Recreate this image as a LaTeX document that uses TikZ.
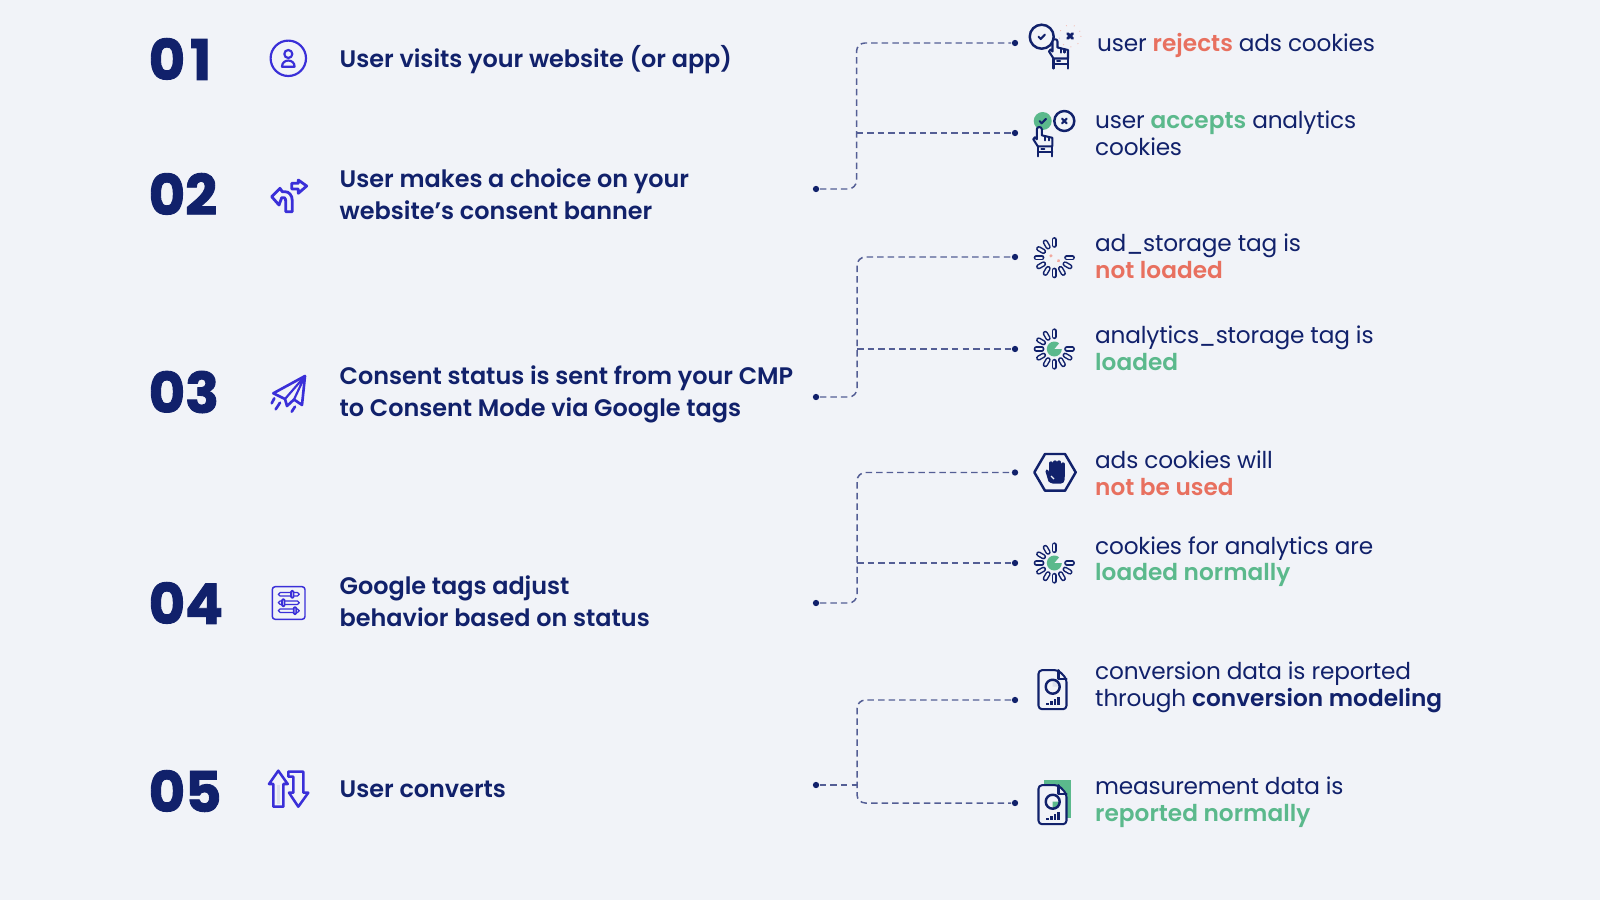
\documentclass[tikz,border=0pt]{standalone}
\usepackage{fontspec}
\setmainfont[BoldFont={Poppins SemiBold}]{Poppins}
\newfontfamily\numfont[BoldFeatures={FakeBold=1.6}]{Poppins}
\newfontfamily\outfont[LetterSpace=-.8,BoldFont={Poppins SemiBold},BoldFeatures={LetterSpace=.1}]{Poppins}
\usepackage{tikz}
\definecolor{pagebg}{HTML}{F1F3F8}
\definecolor{navy}{HTML}{11216B}
\definecolor{indigo}{HTML}{3A2FD8}
\definecolor{linkblue}{HTML}{545E95}
\definecolor{nored}{HTML}{E8705F}
\definecolor{okgreen}{HTML}{5BB98C}
\definecolor{softgrey}{HTML}{DDE1EC}
\newcommand{\rej}[1]{\textcolor{nored}{\textbf{#1}}}
\newcommand{\acc}[1]{\textcolor{okgreen}{\textbf{#1}}}
\newcommand{\solid}[1]{\textbf{#1}}
\tikzset{
  num/.style = {anchor=west, inner sep=0pt, text=navy, font=\numfont\bfseries\fontsize{15.9}{18}\selectfont},
  lefttext/.style = {anchor=west, inner sep=0pt, align=left, text=navy, font=\bfseries\fontsize{6.8}{8.96}\selectfont},
  righttext/.style = {anchor=west, inner sep=0pt, align=left, text=navy, font=\outfont\fontsize{6.6}{7.58}\selectfont},
  dotn/.style = {circle, fill=navy, inner sep=0pt, minimum size=1.8pt},
  link/.style = {draw=linkblue, line width=.42pt, dash pattern=on 1.85pt off 1.15pt, rounded corners=2.4pt},
  ico/.style = {draw=indigo, line width=.62pt, line join=round, line cap=round},
  nic/.style = {draw=navy, line width=.58pt, line join=round, line cap=round},
  spinner/.pic = {
    \foreach \a in {0,90,120,150,180,210,240,270,300,330} {
      \draw[navy, line width=1.5pt, line cap=round] ({12.5*cos(\a)},{-12.5*sin(\a)}) -- ({18*cos(\a)},{-18*sin(\a)});
      \draw[pagebg, line width=.65pt, line cap=round] ({12.5*cos(\a)},{-12.5*sin(\a)}) -- ({18*cos(\a)},{-18*sin(\a)});
    }
  },
  pie/.pic = {
    \fill[okgreen] (0,0) -- (7.5,0) arc[start angle=0, end angle=310, radius=7.5] -- cycle;
  },
  handicon/.pic = {
    \draw[nic, fill=pagebg] (-2.5,2) .. controls (-2.5,-1) and (2.5,-1) .. (2.5,2) -- (2.5,8) -- (13,10.5) -- (13,19) -- (-1.5,19) -- (-6,12) -- (-4.5,10) -- (-2.5,12) -- cycle;
    \draw[nic] (6,9) -- (6,13) (9.5,10) -- (9.5,13);
    \draw[nic] (-1.5,19) -- (-1.5,29) (13,19) -- (13,29) (-1.5,24.5) -- (13,24.5);
    \draw[nic] (2,21.7) -- (5,21.7);
  },
  docicon/.pic = {
    \draw[nic, fill=pagebg, rounded corners=1pt] (-14,-19.5) -- (6,-19.5) -- (14,-11) -- (14,19.5) -- (-14,19.5) -- cycle;
    \draw[nic] (6,-19.5) -- (6,-11) -- (14,-11);
    \foreach \bx/\by in {-5/2,-1/4,2.5/6,6/8}
      \draw[navy, line width=.65pt] (\bx,15) -- (\bx,15-\by);
  }
}
\begin{document}
\begin{tikzpicture}[x=.01cm, y=-.01cm]
\fill[pagebg] (0,0) rectangle (1600,900);
\useasboundingbox (0,0) rectangle (1600,900);
% step numbers
\node[num] (n1) at (148,59) {0\kern1.4pt 1};
\node[num] (n2) at (148,194) {02};
\node[num] (n3) at (148,392) {03};
\node[num] (n4) at (148,603) {04};
\node[num] (n5) at (148,791) {05};
% step texts
\node[lefttext] (t1) at (339,60) {User visits your website (or app)};
\node[lefttext] (t2) at (339,194) {User makes a choice on your\\website’s consent banner};
\node[lefttext] (t3) at (339,394.5) {Consent status is sent from your CMP\\to Consent Mode via Google tags};
\node[lefttext] (t4) at (339,601) {Google tags adjust\\behavior based on status};
\node[lefttext] (t5) at (339,789.5) {User converts};
% outcome texts
\node[righttext] (r1) at (1096.5,45) {user \rej{rejects} ads cookies};
\node[righttext] (r2) at (1094.5,133) {user \acc{accepts} analytics\\cookies};
\node[righttext] (r3) at (1094.5,256) {ad\_storage tag is\\\rej{not loaded}};
\node[righttext] (r4) at (1094.5,348) {analytics\_storage tag is\\\acc{loaded}};
\node[righttext] (r5) at (1094.5,473) {ads cookies will\\\rej{not be used}};
\node[righttext] (r6) at (1094.5,561.5) {cookies for analytics are\\\acc{loaded normally}};
\node[righttext] (r7) at (1094.5,687.5) {conversion data is reported\\through \solid{conversion modeling}};
\node[righttext] (r8) at (1094.5,802.5) {measurement data is\\\acc{reported normally}};
% connectors
\node[dotn] (s1) at (816,189) {};
\node[dotn] (s2) at (816,397) {};
\node[dotn] (s3) at (816,603) {};
\node[dotn] (s4) at (816,785) {};
\node[dotn] (e1) at (1015,43) {};
\node[dotn] (e2) at (1015,133) {};
\node[dotn] (e3) at (1015,257) {};
\node[dotn] (e4) at (1015,349) {};
\node[dotn] (e5) at (1015,472.5) {};
\node[dotn] (e6) at (1015,563) {};
\node[dotn] (e7) at (1015,700) {};
\node[dotn] (e8) at (1015,803) {};
\coordinate (j1) at (856.5,133);
\coordinate (j2) at (857,349);
\coordinate (j3) at (857,563);
\coordinate (j4) at (857,785);
\draw[link] (s1) -| (j1) |- (e1);
\draw[link] (j1) -- (e2);
\draw[link] (s2) -| (j2) |- (e3);
\draw[link] (j2) -- (e4);
\draw[link] (s3) -| (j3) |- (e5);
\draw[link] (j3) -- (e6);
\draw[link] (s4) -- (j4);
\draw[link] (e7) -| (j4) |- (e8);
% left icons
\draw[ico] (288.3,58.3) circle[radius=17.7];
\draw[ico] (288.3,54) circle[radius=4];
\draw[ico] (282,66.7) .. controls (282,58.5) and (294.6,58.5) .. (294.6,66.7) -- cycle;
\draw[ico, line width=.8pt, fill=pagebg] (285.7,211.7) -- (292.3,211.7) -- (292.3,201) .. controls (292.3,195) and (289,191.7) .. (285,191.7) -- (282.3,191.7) -- (280,188.3) -- (271.7,196.7) -- (279,205) -- (281.7,197.7) -- (284.3,197.7) .. controls (285.2,198) and (285.7,199.5) .. (285.7,201) -- cycle;
\draw[ico, line width=.8pt] (291.7,183.3) -- (298.3,183.3) -- (298.3,180) -- (306.7,186) -- (298.3,193.3) -- (298.3,189) -- (291.7,189) -- cycle;
\draw[ico, line width=.75pt] (305,376) -- (273.3,393.3) -- (285,399) -- (287,406) -- (294,399.5) -- (302,405) -- cycle;
\draw[ico] (305,376) -- (285,399) (305,376) -- (294,399.5);
\draw[ico, line width=.75pt] (271.7,403.3) -- (274.3,398.3) (275.7,409.3) -- (280,402.7) (291.7,411.7) -- (295,406.7);
\draw[ico, line width=.42pt, rounded corners=.8pt] (272.3,586.7) rectangle (305,619.3);
\foreach \sy/\kx in {594.3/292.3, 602.7/283.3, 610.7/295} {
  \draw[ico, line width=.35pt, rounded corners=.5pt] (278.3,\sy-1.7) rectangle (299.3,\sy+1.7);
  \draw[ico, line width=.5pt, fill=pagebg, rounded corners=.3pt] (\kx-1.3,\sy-3.5) rectangle (\kx+1.3,\sy+3.5);
}
\fill[softgrey] (277,785) rectangle (280,804);
\draw[ico, line width=.72pt] (278.3,770.7) -- (287.7,784) -- (283.3,784) -- (283.3,806.7) -- (273.3,806.7) -- (273.3,784) -- (269,784) -- cycle;
\draw[ico, line width=.72pt] (288.3,771.7) -- (303.3,771.7) -- (303.3,792.7) -- (308.3,792.7) -- (298.3,806.7) -- (289,792.7) -- (293.3,792.7) -- (293.3,776.7) -- (288.3,776.7) -- cycle;
% right icons
\draw[nic, line width=.7pt] (1041.7,36.7) circle[radius=12];
\draw[nic] (1038.5,36.7) -- (1040.7,39) -- (1045,34.5);
\draw[nored!50, line width=.25pt, dotted] (1070,36) circle[radius=11];
\draw[nic, line width=.8pt] (1067.5,33.5) -- (1072.5,38.5) (1072.5,33.5) -- (1067.5,38.5);
\pic at (1055,39.5) {handicon};
\fill[okgreen] (1042.7,121) circle[radius=9];
\draw[nic] (1039.5,121) -- (1041.7,123.3) -- (1046,118.8);
\draw[nic, line width=.7pt] (1064.3,121) circle[radius=10];
\draw[nic] (1062,118.7) -- (1066.6,123.3) (1066.6,118.7) -- (1062,123.3);
\pic at (1039.3,127.3) {handicon};
\pic at (1054.3,257.7) {spinner};
\draw[nored!60, line width=.7pt, dotted] (1050,255) -- (1055,260) -- (1060,261);
\pic at (1054.3,349) {spinner};
\pic at (1054.3,349) {pie};
\pic at (1054.3,563) {spinner};
\pic at (1054.3,563) {pie};
\draw[nic, line width=.7pt] (1034.3,472.3) -- (1045,454) -- (1065,454) -- (1075.7,472.3) -- (1065,490.7) -- (1045,490.7) -- cycle;
\draw[navy, line width=.95pt, line cap=round] (1051,463) -- (1051,474) (1055,462) -- (1055,474) (1059,462) -- (1059,474) (1063,464) -- (1063,476);
\fill[navy, rounded corners=1pt] (1049,470) rectangle (1064.5,483.5);
\draw[navy, line width=.9pt, line cap=round] (1047,471) -- (1050,481);
\draw[pagebg, line width=.35pt] (1051,476) -- (1054,479);
\pic at (1052.5,689.7) {docicon};
\fill[softgrey] (1052.7,686.7) -- (1052.7,679.7) arc[start angle=-90, end angle=0, radius=7] -- cycle;
\draw[nic, line width=.7pt] (1052.7,686.7) circle[radius=7];
\fill[okgreen] (1044.3,780) rectangle (1071,817.7);
\pic at (1052.5,804.7) {docicon};
\fill[okgreen] (1052.7,801.7) -- (1059.7,801.7) arc[start angle=0, end angle=90, radius=7] -- cycle;
\draw[nic, line width=.7pt] (1052.7,801.7) circle[radius=7];
\end{tikzpicture}
\end{document}
